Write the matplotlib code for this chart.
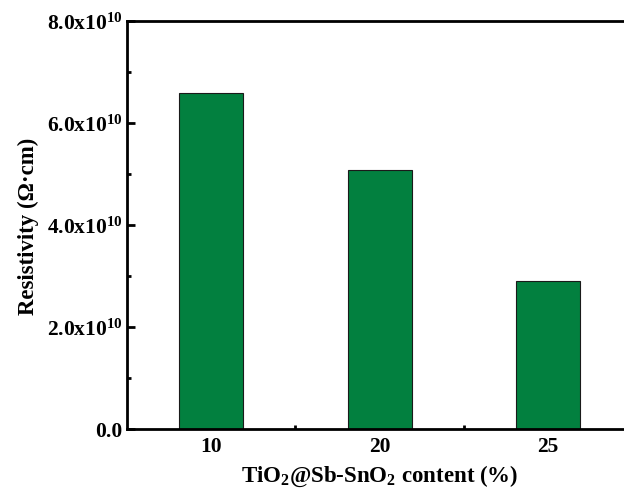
import numpy as np
import matplotlib
matplotlib.use("Agg")
import matplotlib.pyplot as plt
from matplotlib.ticker import MultipleLocator, FixedLocator

plt.rcParams.update({
    "font.family": "Liberation Serif",
    "font.weight": "bold",
    "mathtext.fontset": "custom",
    "mathtext.rm": "Liberation Serif:bold",
    "mathtext.bf": "Liberation Serif:bold",
    "mathtext.it": "Liberation Serif:bold:italic",
})

# data
categories = ["10", "20", "25"]
resistivity = [6.59e10, 5.08e10, 2.90e10]
ytick_values = [0.0, 2.0e10, 4.0e10, 6.0e10, 8.0e10]
ytick_labels = ["0.0", r"2.0x10$^{10}$", r"4.0x10$^{10}$", r"6.0x10$^{10}$", r"8.0x10$^{10}$"]

fig = plt.figure(figsize=(6.24, 4.89), dpi=100)
ax = fig.add_axes([0.2035, 0.1207, 0.81, 0.834])

x = np.arange(len(categories))
ax.bar(x, resistivity, width=0.38, color="#02803f", edgecolor="#1a1a1a", linewidth=0.8, zorder=2)

ax.set_xlim(-0.5, 2.5)
ax.set_ylim(0, 8.0e10)
ax.set_xticks(x)
ax.set_xticklabels(categories)
ax.xaxis.set_minor_locator(FixedLocator([0.5, 1.5]))
ax.set_yticks(ytick_values)
ax.set_yticklabels(ytick_labels)
ax.yaxis.set_minor_locator(MultipleLocator(1.0e10))

ax.tick_params(which="both", direction="in", labelsize=15.5, width=2)
ax.tick_params(which="major", length=6)
ax.tick_params(which="minor", length=3)
ax.tick_params(axis="x", pad=5)
ax.tick_params(axis="y", pad=3)

for side in ["left", "bottom", "top"]:
    ax.spines[side].set_linewidth(2)
ax.spines["right"].set_visible(False)

ax.set_xlabel(r"TiO$_2$@Sb-SnO$_2$ content (%)", fontsize=16.5, fontweight="bold", labelpad=5)
ax.set_ylabel("Resistivity (Ω·cm)", fontsize=16.5, fontweight="bold", labelpad=6)

fig.savefig("out.png", dpi=100)
